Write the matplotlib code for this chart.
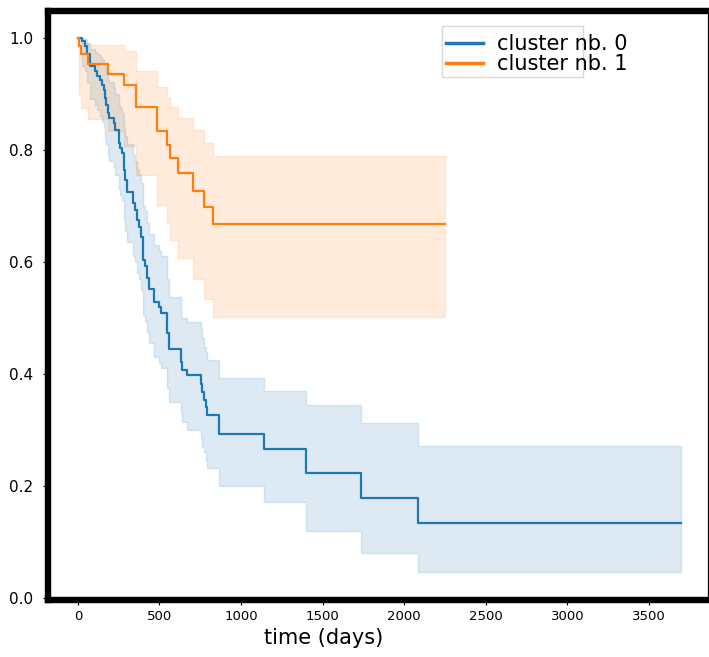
import matplotlib
matplotlib.use("Agg")
import matplotlib.pyplot as plt
from matplotlib.patches import Rectangle
import numpy as np

# Kaplan-Meier estimates (step times in days, survival, CI bounds)
c0_time = [0, 26, 42, 56, 77, 107, 118, 138, 148, 159, 169, 175, 185, 193, 220,
           230, 250, 260, 271, 281, 291, 301, 340, 350, 361, 377, 385, 398, 401,
           412, 422, 438, 469, 499, 508, 545, 549, 557, 630, 636, 671, 755, 759,
           773, 786, 793, 867, 1143, 1396, 1733, 2085, 3696]
c0_surv = [1.0, 0.993, 0.985, 0.970, 0.949, 0.940, 0.931, 0.925, 0.916, 0.907,
           0.892, 0.880, 0.866, 0.857, 0.848, 0.836, 0.812, 0.803, 0.794, 0.764,
           0.746, 0.725, 0.705, 0.693, 0.675, 0.663, 0.645, 0.633, 0.604, 0.592,
           0.571, 0.551, 0.529, 0.520, 0.509, 0.490, 0.473, 0.444, 0.422, 0.408,
           0.398, 0.383, 0.368, 0.354, 0.342, 0.327, 0.293, 0.266, 0.223, 0.179,
           0.135, 0.135]
c0_upper = [1.0, 1.0, 0.997, 0.99, 0.98, 0.975, 0.97, 0.965, 0.96, 0.955, 0.945,
            0.935, 0.925, 0.92, 0.91, 0.90, 0.88, 0.875, 0.865, 0.84, 0.825, 0.81,
            0.79, 0.78, 0.765, 0.755, 0.74, 0.73, 0.70, 0.69, 0.67, 0.65, 0.63,
            0.62, 0.61, 0.59, 0.57, 0.538, 0.502, 0.50, 0.492, 0.48, 0.465, 0.449,
            0.44, 0.425, 0.392, 0.37, 0.344, 0.312, 0.271, 0.271]
c0_lower = [1.0, 0.95, 0.94, 0.92, 0.89, 0.88, 0.87, 0.86, 0.85, 0.84, 0.82, 0.81,
            0.79, 0.78, 0.77, 0.755, 0.73, 0.72, 0.71, 0.675, 0.655, 0.635, 0.61,
            0.60, 0.58, 0.57, 0.55, 0.535, 0.505, 0.495, 0.475, 0.455, 0.43, 0.42,
            0.41, 0.39, 0.375, 0.35, 0.33, 0.315, 0.30, 0.285, 0.27, 0.26, 0.245,
            0.233, 0.20, 0.171, 0.12, 0.08, 0.047, 0.047]

c1_time = [0, 10, 20, 62, 183, 285, 357, 485, 548, 567, 612, 706, 776, 826, 2252]
c1_surv = [1.0, 0.985, 0.970, 0.953, 0.935, 0.916, 0.877, 0.833, 0.809, 0.785,
           0.758, 0.727, 0.698, 0.667, 0.667]
c1_upper = [1.0, 1.0, 0.99, 0.9875, 0.9875, 0.976, 0.940, 0.912, 0.892, 0.877,
            0.857, 0.836, 0.812, 0.789, 0.789]
c1_lower = [1.0, 0.90, 0.875, 0.855, 0.833, 0.806, 0.755, 0.702, 0.67, 0.639,
            0.607, 0.569, 0.533, 0.501, 0.501]

labels = ["cluster nb. 0", "cluster nb. 1"]
x_ticks = [0, 500, 1000, 1500, 2000, 2500, 3000, 3500]
y_ticks = [0.0, 0.2, 0.4, 0.6, 0.8, 1.0]

fig = plt.figure(figsize=(7.09, 6.57), dpi=100)
ax = fig.add_axes([0.0677, 0.0868, 0.9309, 0.8970])

series = [
    (c0_time, c0_surv, c0_lower, c0_upper, "#1f77b4", labels[0]),
    (c1_time, c1_surv, c1_lower, c1_upper, "#ff7f0e", labels[1]),
]
handles = []
for t, s, lo, up, col, lab in series:
    ax.fill_between(t, lo, up, step="post", color=col, alpha=0.15, linewidth=1.0)
    line, = ax.plot(t, s, drawstyle="steps-post", color=col, lw=1.6, label=lab)
    handles.append(line)

ax.set_xlim(-183, 3862)
ax.set_ylim(-0.003, 1.048)
ax.set_xticks(x_ticks)
ax.set_yticks(y_ticks)
ax.set_yticklabels([f"{v:.1f}" for v in y_ticks])
ax.tick_params(axis="x", labelsize=9.5)
ax.tick_params(axis="y", labelsize=11, pad=7)

for side in ("left", "top", "bottom"):
    ax.spines[side].set_linewidth(4.6)
    ax.spines[side].set_color("black")
ax.spines["right"].set_linewidth(0.9)

ax.set_xlabel("time (days)", fontsize=15)
ax.xaxis.set_label_coords(0.418, -0.048)

# legend frame and entries
ax.add_patch(Rectangle((0.597, 0.8875), 0.2136, 0.0865, transform=ax.transAxes,
                       facecolor="white", edgecolor="0.85", lw=1.0, zorder=4))
leg = ax.legend(handles=handles, loc="upper left", bbox_to_anchor=(0.603, 0.960),
                frameon=False, fontsize=15, handlelength=1.8, handletextpad=0.65,
                labelspacing=0.0, borderpad=0.0, borderaxespad=0.0)
for h in leg.get_lines():
    h.set_linewidth(2.5)
leg.set_zorder(5)

fig.savefig("out.png", dpi=100)
